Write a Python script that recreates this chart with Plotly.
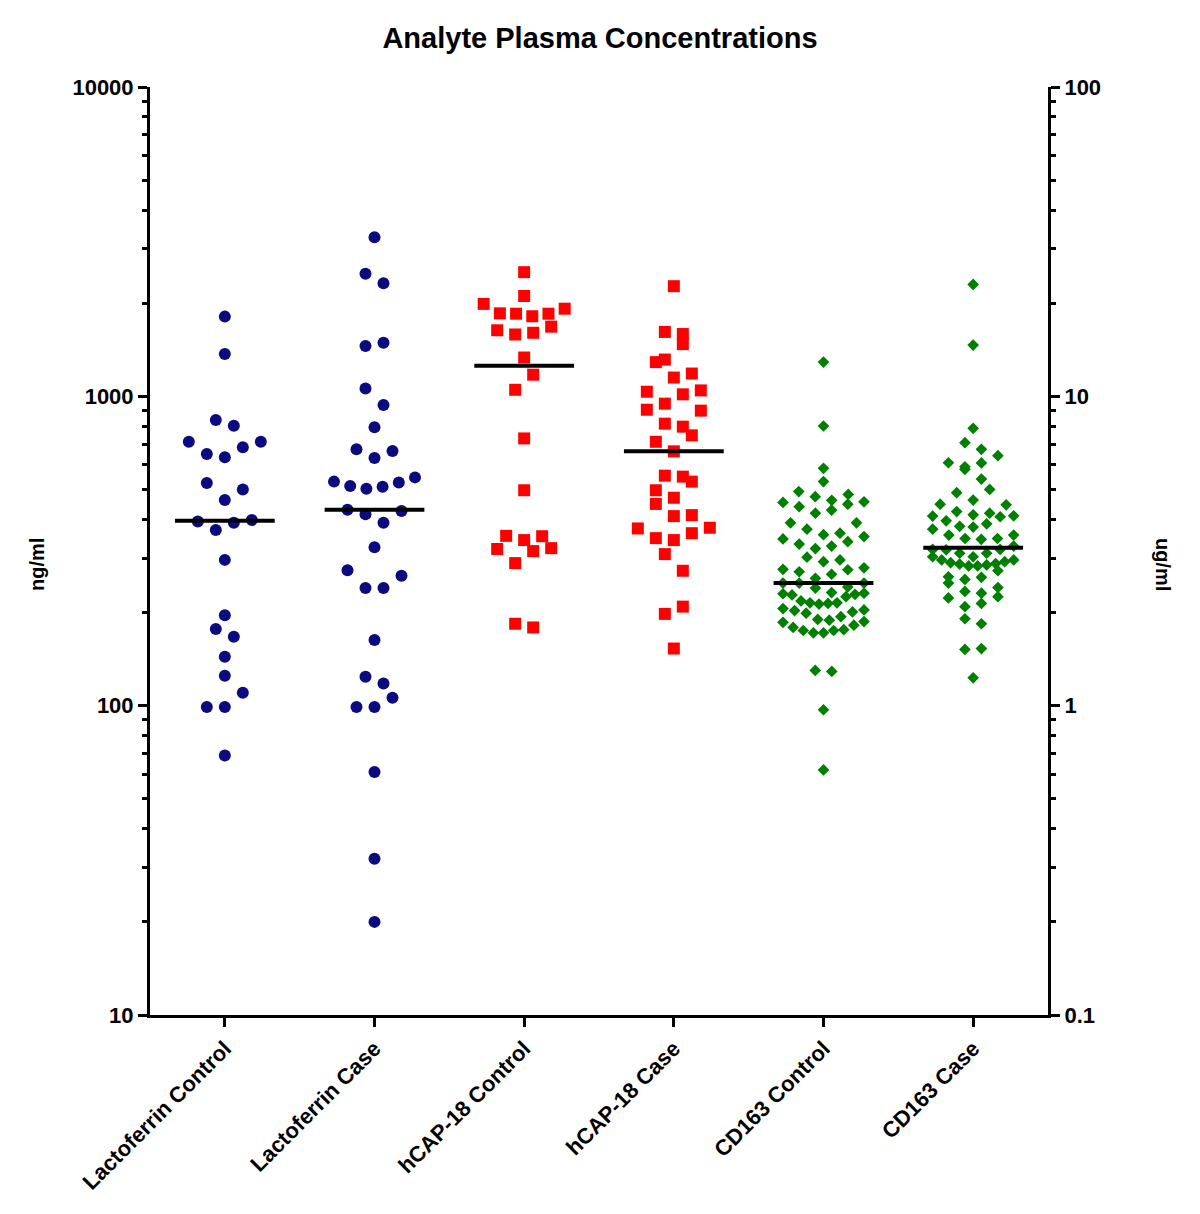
import numpy as np
import plotly.graph_objects as go

categories = ["Lactoferrin Control", "Lactoferrin Case", "hCAP-18 Control",
              "hCAP-18 Case", "CD163 Control", "CD163 Case"]

# ng/ml (left axis)
lactoferrin_control = [1810, 1370, 838, 804, 713, 713, 684, 651, 635, 525, 500, 462, 398,
                       394, 390, 370, 296, 196, 177, 167, 144, 125, 110, 99, 99, 69]
lactoferrin_case = [3270, 2490, 2320, 1490, 1455, 1060, 938, 794, 674, 666, 632, 547, 530,
                    527, 513, 510, 503, 430, 426, 416, 390, 325, 274, 263, 240, 240, 163,
                    124, 118, 106, 99, 99, 61, 32, 20]
hcap18_control = [2520, 2110, 1990, 1920, 1855, 1850, 1850, 1815, 1680, 1635, 1605, 1585,
                  1335, 1175, 1050, 731, 497, 354, 353, 343, 323, 321, 316, 289, 184, 179]
hcap18_case = [2270, 1615, 1590, 1475, 1315, 1290, 1185, 1150, 1045, 1035, 1015, 947, 905,
               899, 816, 798, 748, 713, 664, 554, 550, 530, 497, 470, 449, 413, 410, 376,
               374, 361, 348, 343, 309, 273, 209, 198, 153]

# ug/ml (right axis)
cd163_control = [12.9, 8.02, 5.85, 5.30, 4.92, 4.82, 4.74, 4.61, 4.56, 4.54, 4.48, 4.40,
                 4.29, 4.19, 3.90, 3.90, 3.72, 3.61, 3.57, 3.52, 3.46, 3.39, 3.33, 3.28,
                 3.22, 3.02, 2.96, 2.92, 2.79, 2.76, 2.75, 2.71, 2.66, 2.58, 2.49, 2.49,
                 2.49, 2.42, 2.40, 2.32, 2.31, 2.30, 2.29, 2.28, 2.25, 2.18, 2.15, 2.15,
                 2.14, 2.13, 2.06, 2.04, 2.03, 2.01, 1.99, 1.94, 1.90, 1.89, 1.87, 1.86,
                 1.82, 1.79, 1.76, 1.75, 1.75, 1.72, 1.72, 1.30, 1.29, 0.97, 0.62]
cd163_case = [23.0, 14.65, 7.88, 7.08, 6.74, 6.43, 6.10, 6.09, 5.92, 5.81, 5.40, 5.00,
              4.88, 4.62, 4.48, 4.46, 4.24, 4.19, 4.14, 4.11, 4.10, 4.08, 3.96, 3.87,
              3.80, 3.78, 3.72, 3.56, 3.56, 3.47, 3.47, 3.45, 3.28, 3.20, 3.20, 3.19,
              3.11, 3.11, 3.03, 3.03, 2.96, 2.96, 2.92, 2.90, 2.88, 2.87, 2.85, 2.83,
              2.83, 2.73, 2.61, 2.60, 2.56, 2.49, 2.41, 2.34, 2.31, 2.25, 2.23, 2.14,
              2.09, 1.91, 1.84, 1.53, 1.52, 1.23]

left_ticks = [10, 100, 1000, 10000]
right_ticks = [0.1, 1, 10, 100]

NAVY = "#0b0b7f"
RED = "#ff0000"
GREEN = "#008000"
FONT = "Liberation Sans, Arial, sans-serif"

# page body has an 8px margin, so the plot area is nudged back by that
W, H = 1200, 1214
M_L, M_R, M_T, M_B = 142, 160, 79, 207
PLOT_W = W - M_L - M_R
PLOT_H = H - M_T - M_B
PX_PER_CAT = PLOT_W / 6
PX_PER_DECADE = PLOT_H / 3


def scatter_rows(values, marker_px, row_h, max_w=81.0, max_n=10):
    # column scatter: bottom-up rows, lowest value of a row in the middle
    ys = -np.log10(values) * PX_PER_DECADE
    order = np.argsort(-ys, kind="stable")
    rows, cur, anchor = [], [], None
    for i in order:
        if cur and (anchor - ys[i] > row_h or len(cur) >= max_n):
            rows.append(cur)
            cur = []
        if not cur:
            anchor = ys[i]
        cur.append(i)
    rows.append(cur)
    offs = np.zeros(len(values))
    for r, row in enumerate(rows):
        n = len(row)
        sp = min(1.5 * marker_px, max_w / (n - 1)) if n > 1 else 0.0
        slots = [(k - (n - 1) / 2) * sp for k in range(n)]
        sgn = 1 if r % 2 == 0 else -1
        slots.sort(key=lambda s: (round(abs(s), 6), -sgn * s))
        for idx, s in zip(row, slots):
            offs[idx] = s
    return offs / PX_PER_CAT


groups = [
    (lactoferrin_control, "y", "circle", NAVY, 12, 12, 18),
    (lactoferrin_case, "y", "circle", NAVY, 12, 12, 18),
    (hcap18_control, "y", "square", RED, 12, 12, 18),
    (hcap18_case, "y", "square", RED, 12, 12, 18),
    (cd163_control, "y2", "diamond", GREEN, 9, 11, 12),
    (cd163_case, "y2", "diamond", GREEN, 9, 11, 12),
]

fig = go.Figure()
for i, (vals, ax, sym, col, size, mpx, rowh) in enumerate(groups):
    xs = i + scatter_rows(vals, mpx, rowh)
    fig.add_trace(go.Scatter(
        x=xs, y=vals, yaxis=ax, mode="markers", name=categories[i],
        marker=dict(symbol=sym, color=col, size=size, line=dict(width=0)),
        showlegend=False))
    med = float(np.median(vals))
    fig.add_trace(go.Scatter(
        x=[i - 1 / 3, i + 1 / 3], y=[med, med], yaxis=ax, mode="lines",
        line=dict(color="black", width=4), showlegend=False, hoverinfo="skip"))

axis_common = dict(
    type="log", showgrid=False, zeroline=False, showline=True, linecolor="black",
    linewidth=3, ticks="outside", ticklen=9, tickwidth=3, tickcolor="black",
    tickfont=dict(family=FONT, size=22, color="black", weight="bold"),
    minor=dict(ticks="outside", ticklen=5, tickwidth=3, tickcolor="black", dtick="D1",
               showgrid=False),
)

label_y = 1 - (564 - 8 - M_T) / PLOT_H

fig.update_layout(
    width=W, height=H,
    margin=dict(l=M_L, r=M_R, t=M_T, b=M_B),
    paper_bgcolor="white", plot_bgcolor="white",
    title=dict(text="Analyte Plasma Concentrations", x=592 / W, xanchor="center",
               y=1 - 30 / H, yanchor="middle",
               font=dict(family=FONT, size=29, color="black", weight="bold")),
    xaxis=dict(range=[-0.5, 5.5], tickmode="array", tickvals=list(range(6)),
               ticktext=categories, tickangle=-45, showgrid=False, zeroline=False,
               showline=True, linecolor="black", linewidth=3, ticks="outside",
               ticklen=9, tickwidth=3, tickcolor="black",
               tickfont=dict(family=FONT, size=22, color="black", weight="bold")),
    yaxis=dict(range=[1, 4], tickvals=left_ticks, ticktext=[str(t) for t in left_ticks],
               **axis_common),
    yaxis2=dict(range=[-1, 2], overlaying="y", side="right", anchor="x",
                tickvals=right_ticks, ticktext=["0.1", "1", "10", "100"], **axis_common),
    annotations=[
        dict(text="ng/ml", xref="paper", yref="paper", x=(29 - M_L) / PLOT_W, y=label_y,
             xanchor="center", yanchor="middle", textangle=-90, showarrow=False,
             font=dict(family=FONT, size=20, color="black", weight="bold")),
        dict(text="ug/ml", xref="paper", yref="paper", x=(1155 - M_L) / PLOT_W, y=label_y,
             xanchor="center", yanchor="middle", textangle=90, showarrow=False,
             font=dict(family=FONT, size=20, color="black", weight="bold")),
    ],
)

fig.write_html("out.html")
